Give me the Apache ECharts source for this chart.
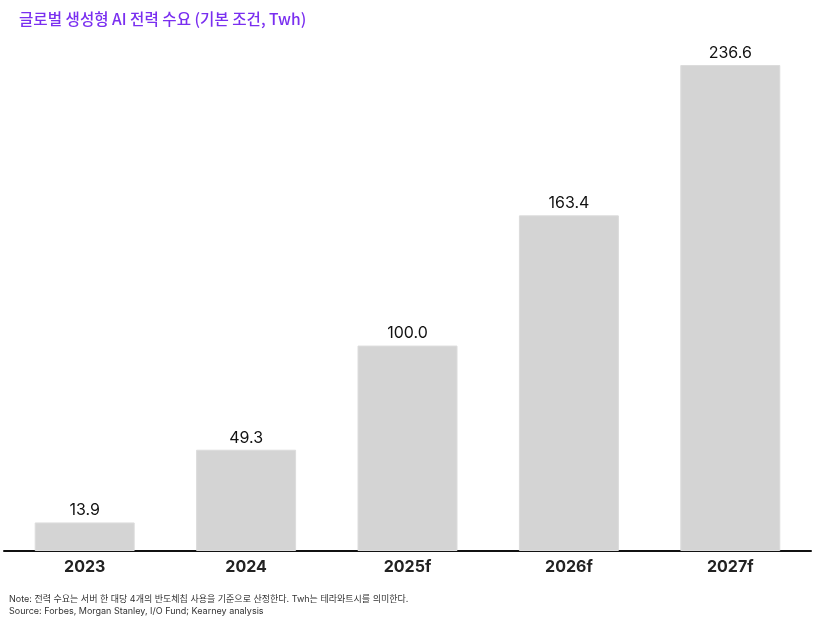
<!DOCTYPE html>
<html><head><meta charset="utf-8">
<script src="https://cdn.jsdelivr.net/npm/echarts@6/dist/echarts.min.js"></script>
<style>html,body{margin:0;padding:0;background:#fff}#c{width:827px;height:621px}</style>
</head><body><div id="c"></div>
<script>
const categories = ['2023', '2024', '2025f', '2026f', '2027f'];
const values = [13.9, 49.3, 100.0, 163.4, 236.6];
const titleText = '글로벌 생성형 AI 전력 수요 (기본 조건, Twh)';
const noteText = 'Note: 전력 수요는 서버 한 대당 4개의 반도체칩 사용을 기준으로 산정한다. Twh는 테라와트시를 의미한다.';
const sourceText = 'Source: Forbes, Morgan Stanley, I/O Fund; Kearney analysis';

const chart = echarts.init(document.getElementById('c'));
const ff = '"Noto Sans CJK KR", "Noto Sans", sans-serif';
chart.setOption({
  animation: false,
  textStyle: { fontFamily: ff },
  title: [
    { text: titleText, left: 14, top: 6, textStyle: { color: '#7a2ff0', fontSize: 15.6, fontWeight: 500, fontFamily: ff } },
    { text: noteText + '\n' + sourceText, left: 4, top: 588, textStyle: { color: '#333', fontSize: 9, fontWeight: 'normal', lineHeight: 12, fontFamily: 'Inter, "Noto Sans CJK KR", sans-serif' } }
  ],
  grid: { left: 4, right: 16, top: 65, bottom: 70 },
  xAxis: {
    type: 'category', data: categories,
    axisLine: { lineStyle: { color: '#111', width: 2 } },
    axisTick: { show: false },
    axisLabel: { color: '#222', fontSize: 16, fontWeight: 'bold', margin: 8, fontFamily: 'Inter, "Noto Sans", sans-serif' }
  },
  yAxis: { type: 'value', min: 0, max: 236.6, show: false, splitLine: { show: false } },
  series: [{
    type: 'bar', data: values, barWidth: 100,
    itemStyle: { color: '#d4d4d4', borderColor: '#dcdcdc', borderWidth: 1 },
    label: { show: true, position: 'top', distance: 4, color: '#111', fontSize: 16,
      fontFamily: 'Inter, "Noto Sans", sans-serif',
      formatter: p => p.value.toFixed(1) }
  }]
});
</script></body></html>
